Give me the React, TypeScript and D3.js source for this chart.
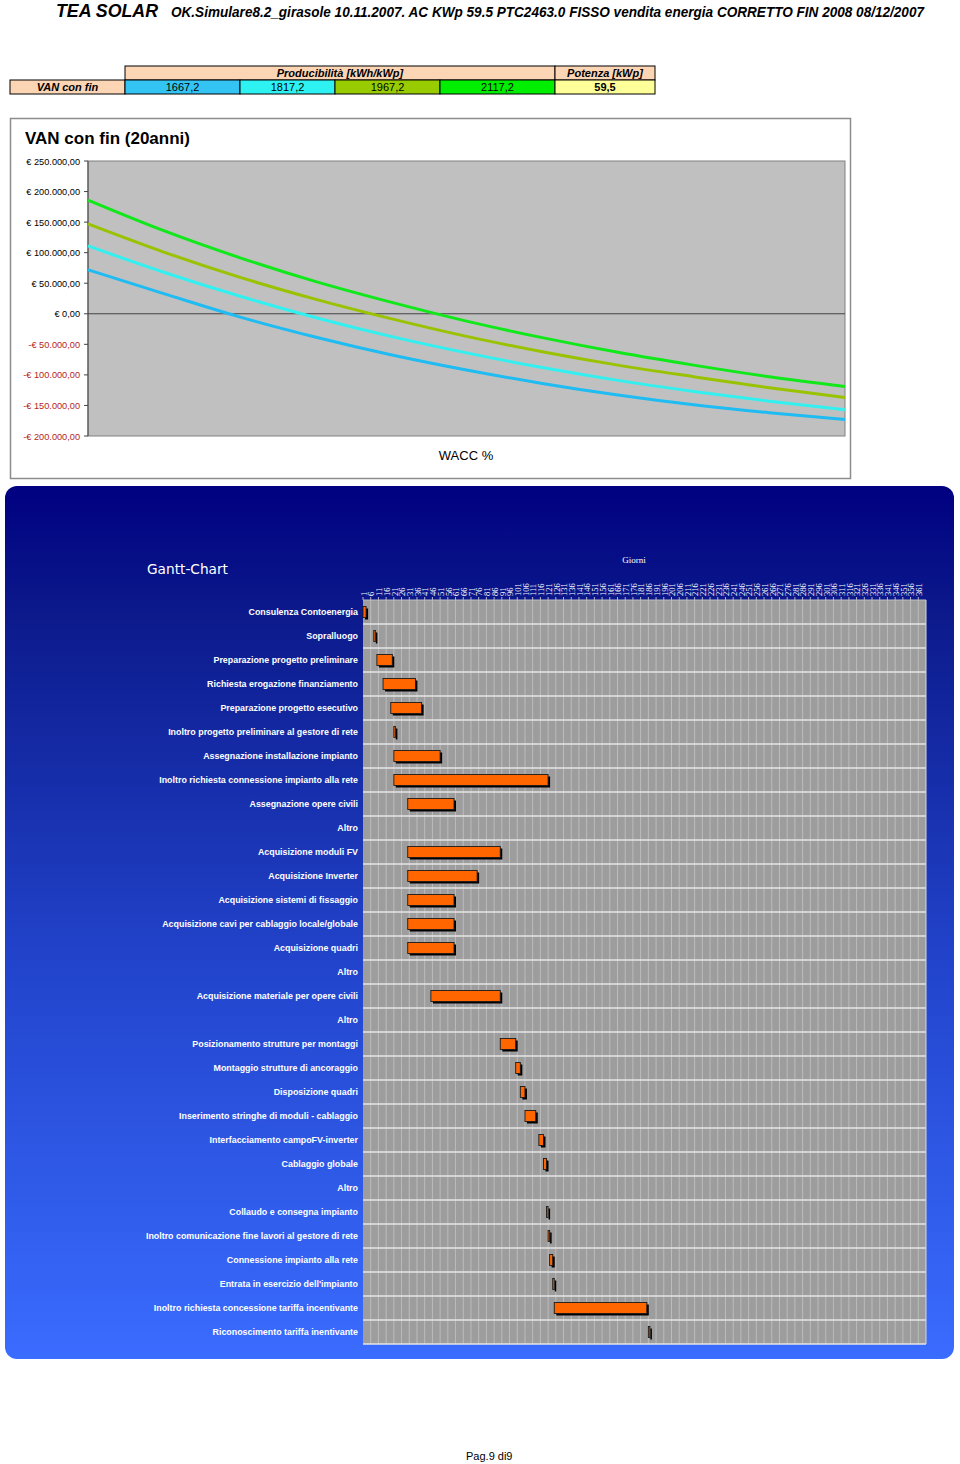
import React from 'react';
import * as d3 from 'd3';

// ---------- Header ----------
const headerBrand = 'TEA SOLAR';
const headerInfo = 'OK.Simulare8.2_girasole 10.11.2007. AC  KWp 59.5 PTC2463.0 FISSO vendita energia CORRETTO FIN 2008  08/12/2007';

// ---------- Table ----------
const tableRowLabel = 'VAN con fin';
const prodHeader = 'Producibilità [kWh/kWp]';
const powerHeader = 'Potenza [kWp]';
const prodValues = ['1667,2', '1817,2', '1967,2', '2117,2'];
const powerValue = '59,5';

// ---------- Line chart (VAN vs WACC) ----------
const chartTitle = 'VAN con fin (20anni)';
const xAxisTitle = 'WACC %';
const waccSteps = [0, 1, 2, 3, 4, 5, 6, 7, 8, 9, 10];
const van1667 = [72000, 33000, -5000, -38000, -67000, -92000, -114000, -133000, -149000, -162000, -173000];
const van1817 = [111000, 68000, 29000, -6000, -37000, -64000, -88000, -109000, -127000, -143000, -157000];
const van1967 = [147000, 101000, 60000, 24000, -8000, -37000, -62000, -84000, -103000, -121000, -137000];
const van2117 = [186000, 136000, 92000, 53000, 19000, -12000, -39000, -63000, -84000, -103000, -119000];
const yTickValues = [250000, 200000, 150000, 100000, 50000, 0, -50000, -100000, -150000, -200000];
const yTickLabels = ['€ 250.000,00', '€ 200.000,00', '€ 150.000,00', '€ 100.000,00', '€ 50.000,00', '€ 0,00', '-€ 50.000,00', '-€ 100.000,00', '-€ 150.000,00', '-€ 200.000,00'];

// ---------- Gantt ----------
const ganttTitle = 'Gantt-Chart';
const ganttAxisTitle = 'Giorni';
const tasks = [
  'Consulenza Contoenergia',
  'Sopralluogo',
  'Preparazione progetto preliminare',
  'Richiesta erogazione finanziamento',
  'Preparazione progetto esecutivo',
  'Inoltro progetto preliminare al gestore di rete',
  'Assegnazione installazione impianto',
  'Inoltro richiesta connessione impianto alla rete',
  'Assegnazione opere civili',
  'Altro',
  'Acquisizione moduli FV',
  'Acquisizione Inverter',
  'Acquisizione sistemi di fissaggio',
  'Acquisizione cavi per cablaggio locale/globale',
  'Acquisizione quadri',
  'Altro',
  'Acquisizione materiale per opere civili',
  'Altro',
  'Posizionamento strutture per montaggi',
  'Montaggio strutture di ancoraggio',
  'Disposizione quadri',
  'Inserimento stringhe di moduli - cablaggio',
  'Interfacciamento campoFV-inverter',
  'Cablaggio globale',
  'Altro',
  'Collaudo e consegna impianto',
  'Inoltro comunicazione fine lavori al gestore di rete',
  'Connessione impianto alla rete',
  "Entrata in esercizio dell'impianto",
  'Inoltro richiesta concessione tariffa incentivante',
  'Riconoscimento tariffa inentivante',
];
const taskStart = [0, 7, 9, 13, 18, 20, 20, 20, 29, 0, 29, 29, 29, 29, 29, 0, 44, 0, 89, 99, 102, 105, 114, 117, 0, 119, 120, 121, 123, 124, 185];
const taskDuration = [2, 1, 10, 21, 20, 1, 30, 100, 30, 0, 60, 45, 30, 30, 30, 0, 45, 0, 10, 3, 3, 7, 3, 2, 0, 1, 1, 2, 1, 60, 1];
const dayTicks = [1, 6, 11, 16, 21, 26, 31, 36, 41, 46, 51, 56, 61, 66, 71, 76, 81, 86, 91, 96, 101, 106, 111, 116, 121, 126, 131, 136, 141, 146, 151, 156, 161, 166, 171, 176, 181, 186, 191, 196, 201, 206, 211, 216, 221, 226, 231, 236, 241, 246, 251, 256, 261, 266, 271, 276, 281, 286, 291, 296, 301, 306, 311, 316, 321, 326, 331, 336, 341, 346, 351, 356, 361];
const daysInYear = 365;

const footerText = 'Pag.9 di9';

const SANS = '"Liberation Sans", Arial, Helvetica, sans-serif';
const SERIF = '"Liberation Serif", "Times New Roman", serif';

export default function App() {
  // line chart scales
  const lx = d3.scaleLinear().domain([0, 10]).range([88, 845]);
  const ly = d3.scaleLinear().domain([-200000, 250000]).range([436, 161]);
  const line = d3
    .line<number>()
    .x((_, i) => lx(waccSteps[i]))
    .y((d) => ly(d))
    .curve(d3.curveMonotoneX);
  const lineSeries = [
    { values: van1667, color: '#1ebcf2' },
    { values: van1817, color: '#33f0f0' },
    { values: van1967, color: '#99c200' },
    { values: van2117, color: '#11e81a' },
  ];

  // table
  const colEdges = [10, 125, 240, 335, 440, 555, 655];
  const prodColors = ['#33c4f4', '#2ef2f2', '#99cc00', '#00ee00'];
  const row1 = 66;
  const row2 = 80;
  const rowH = 14;

  // gantt scales
  const gx = d3.scaleLinear().domain([0, daysInYear]).range([363, 926]);
  const gy = d3
    .scaleBand<number>()
    .domain(tasks.map((_, i) => i))
    .range([600, 1344]);
  const gridDays = dayTicks.slice(1).map((d) => d - 1);

  return (
    <svg
      width={960}
      height={1464}
      style={{ position: 'absolute', left: 0, top: 0, background: '#fff' }}
      fontFamily={SANS}
    >
      <defs>
        <linearGradient id="ganttBg" x1="0" y1="0" x2="0" y2="1">
          <stop offset="0" stopColor="#000080" />
          <stop offset="0.15" stopColor="#0c1a8c" />
          <stop offset="0.55" stopColor="#2244cc" />
          <stop offset="1" stopColor="#3a6cff" />
        </linearGradient>
      </defs>

      {/* Header */}
      <text x={56} y={17} fontSize={18} fontWeight="bold" fontStyle="italic" textLength={102} lengthAdjust="spacingAndGlyphs">
        {headerBrand}
      </text>
      <text x={171} y={17} fontSize={14} fontWeight="bold" fontStyle="italic" textLength={753} lengthAdjust="spacingAndGlyphs">
        {headerInfo}
      </text>

      {/* Table */}
      <g fontSize={11}>
        <rect x={colEdges[1]} y={row1} width={colEdges[5] - colEdges[1]} height={rowH} fill="#fcd5b4" stroke="#000" strokeWidth={1} />
        <rect x={colEdges[5]} y={row1} width={colEdges[6] - colEdges[5]} height={rowH} fill="#fcd5b4" stroke="#000" strokeWidth={1} />
        <text x={(colEdges[1] + colEdges[5]) / 2} y={row1 + 11} textAnchor="middle" fontWeight="bold" fontStyle="italic">
          {prodHeader}
        </text>
        <text x={(colEdges[5] + colEdges[6]) / 2} y={row1 + 11} textAnchor="middle" fontWeight="bold" fontStyle="italic">
          {powerHeader}
        </text>
        <rect x={colEdges[0]} y={row2} width={colEdges[1] - colEdges[0]} height={rowH} fill="#fcd5b4" stroke="#000" strokeWidth={1} />
        <text x={(colEdges[0] + colEdges[1]) / 2} y={row2 + 11} textAnchor="middle" fontWeight="bold" fontStyle="italic">
          {tableRowLabel}
        </text>
        {prodValues.map((v, i) => (
          <g key={v}>
            <rect x={colEdges[i + 1]} y={row2} width={colEdges[i + 2] - colEdges[i + 1]} height={rowH} fill={prodColors[i]} stroke="#000" strokeWidth={1} />
            <text x={(colEdges[i + 1] + colEdges[i + 2]) / 2} y={row2 + 11} textAnchor="middle">
              {v}
            </text>
          </g>
        ))}
        <rect x={colEdges[5]} y={row2} width={colEdges[6] - colEdges[5]} height={rowH} fill="#ffff99" stroke="#000" strokeWidth={1} />
        <text x={(colEdges[5] + colEdges[6]) / 2} y={row2 + 11} textAnchor="middle" fontWeight="bold">
          {powerValue}
        </text>
      </g>

      {/* Line chart frame */}
      <rect x={10.5} y={118.5} width={840} height={360} fill="#fff" stroke="#8c8c8c" strokeWidth={1.5} />
      <text x={25} y={144} fontSize={17} fontWeight="bold">
        {chartTitle}
      </text>
      <rect x={lx(0)} y={ly(250000)} width={lx(10) - lx(0)} height={ly(-200000) - ly(250000)} fill="#c0c0c0" stroke="#808080" strokeWidth={1} />
      <line x1={lx(0)} x2={lx(10)} y1={ly(0)} y2={ly(0)} stroke="#444" strokeWidth={1} />
      <line x1={lx(0)} x2={lx(0)} y1={ly(250000)} y2={ly(-200000)} stroke="#444" strokeWidth={1} />
      {yTickValues.map((v, i) => (
        <g key={v}>
          <line x1={lx(0) - 4} x2={lx(0)} y1={ly(v)} y2={ly(v)} stroke="#444" />
          <text x={80} y={ly(v) + 3.5} fontSize={9.2} textAnchor="end" fill={v < 0 ? '#b41e1e' : '#000'}>
            {yTickLabels[i]}
          </text>
        </g>
      ))}
      {lineSeries.map((s) => (
        <path key={s.color} d={line(s.values) || ''} fill="none" stroke={s.color} strokeWidth={3} />
      ))}
      <text x={466} y={460} fontSize={13} textAnchor="middle">
        {xAxisTitle}
      </text>

      {/* Gantt panel */}
      <rect x={5} y={486} width={949} height={873} rx={12} ry={12} fill="url(#ganttBg)" />
      <text x={147} y={574} fontSize={14} fill="#fff" fontFamily='"DejaVu Sans", sans-serif' textLength={81} lengthAdjust="spacingAndGlyphs">
        {ganttTitle}
      </text>
      <text x={634} y={563} fontSize={9} fill="#fff" textAnchor="middle" fontFamily={SERIF}>
        {ganttAxisTitle}
      </text>

      {/* day tick labels */}
      {dayTicks.map((d) => {
        const cx = gx(d - 0.5);
        return (
          <g key={d}>
            <text
              transform={`translate(${cx + 3},596) rotate(-90)`}
              fontSize={8.5}
              fill="#fff"
              fontFamily={SERIF}
            >
              {d}
            </text>
            <line x1={gx(d - 1)} x2={gx(d - 1)} y1={597} y2={600} stroke="#ddd" strokeWidth={0.8} />
          </g>
        );
      })}

      {/* plot background */}
      <rect x={gx(0)} y={600} width={gx(daysInYear) - gx(0)} height={744} fill="#9d9d9d" />
      {gridDays.map((d) => (
        <line key={d} x1={gx(d)} x2={gx(d)} y1={600} y2={1344} stroke="#c4c4c4" strokeWidth={0.8} />
      ))}
      {tasks.map((_, i) => (
        <line key={i} x1={gx(0)} x2={gx(daysInYear)} y1={(gy(i) as number) + gy.bandwidth()} y2={(gy(i) as number) + gy.bandwidth()} stroke="#e6e6e6" strokeWidth={1.6} />
      ))}
      <line x1={gx(0)} x2={gx(daysInYear)} y1={600} y2={600} stroke="#bdbdbd" strokeWidth={1} />
      <line x1={gx(daysInYear)} x2={gx(daysInYear)} y1={600} y2={1344} stroke="#d8d8d8" strokeWidth={1} />

      {/* task labels */}
      {tasks.map((t, i) => (
        <text
          key={i}
          x={358}
          y={(gy(i) as number) + gy.bandwidth() / 2 + 3.2}
          fontSize={8.9}
          fontWeight="bold"
          fill="#fff"
          textAnchor="end"
        >
          {t}
        </text>
      ))}

      {/* bars */}
      {tasks.map((_, i) => {
        if (taskDuration[i] <= 0) return null;
        const x0 = gx(taskStart[i]);
        const w = Math.max(gx(taskStart[i] + taskDuration[i]) - x0, 1);
        const yc = (gy(i) as number) + gy.bandwidth() / 2;
        const h = 11;
        return (
          <g key={i}>
            <rect x={x0 + 2} y={yc - h / 2 + 2} width={w} height={h} fill="#000" />
            <rect x={x0} y={yc - h / 2} width={w} height={h} fill="#ff6600" stroke="#1a1a1a" strokeWidth={0.9} />
          </g>
        );
      })}

      <text x={466} y={1460} fontSize={11}>
        {footerText}
      </text>
    </svg>
  );
}
